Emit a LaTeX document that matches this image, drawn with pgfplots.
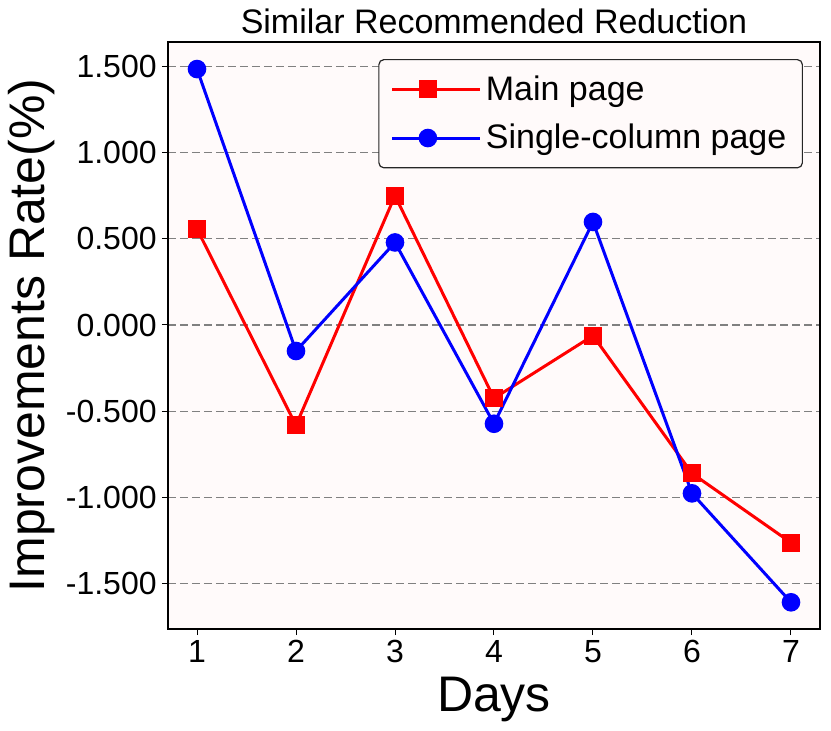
\documentclass[border=0pt]{standalone}
\usepackage{pgfplots}
\pgfplotsset{compat=1.18}
\usepackage{fontspec}
\setmainfont{Liberation Sans}
\definecolor{bgpink}{RGB}{255,250,250}
\definecolor{gridgray}{RGB}{128,128,128}
\begin{document}
\begin{tikzpicture}
\useasboundingbox (-84bp,-344.5bp) rectangle (331.5bp,21bp);
\begin{axis}[
  at={(0,0)}, anchor=north west,
  scale only axis,
  width=326bp, height=293.5bp,
  xmin=0.707, xmax=7.293,
  ymin=-1.764, ymax=1.642,
  xtick={1,2,3,4,5,6,7},
  ytick={-1.5,-1,-0.5,0,0.5,1,1.5},
  /pgf/number format/assume math mode=true,
  yticklabel={\pgfmathprintnumber[fixed,fixed zerofill,precision=3]{\tick}},
  tick pos=left,
  tick align=outside,
  major tick length=3bp,
  every tick/.style={black, line width=0.5bp},
  axis line style={black, line width=0.8bp},
  axis background/.style={fill=bgpink},
  ymajorgrids,
  grid style={gridgray, line width=0.65bp, dash pattern=on 4bp off 2bp},
  ticklabel style={font=\fontsize{16bp}{19bp}\selectfont},
  yticklabel style={inner sep=0pt, anchor=east, xshift=-2.5bp},
  xticklabel style={inner sep=0pt, anchor=north, yshift=-2.5bp},
  title={Similar Recommended Reduction},
  title style={font=\fontsize{17bp}{20bp}\selectfont, at={(axis description cs:0.5,1)}, anchor=base, yshift=-1.5bp, inner sep=0pt},
  xlabel={Days},
  ylabel={Improvements Rate(\%)},
  xlabel style={font=\fontsize{25bp}{28bp}\selectfont, at={(axis description cs:0.5,-0.1397)}, anchor=base, inner sep=0pt},
  ylabel style={font=\fontsize{25bp}{28bp}\selectfont, at={(axis description cs:-0.1887,0.5)}, anchor=base, inner sep=0pt},
  legend style={at={(axis description cs:0.9739,0.9710)}, anchor=north east,
    draw=black!85, line width=0.6bp, rounded corners=2.5bp, fill=bgpink,
    font=\fontsize{17bp}{20bp}\selectfont,
    inner xsep=6bp, inner ysep=6bp,
    row sep=6.5bp},
  legend cell align=left,
  legend image code/.code={\draw[mark repeat=2,mark phase=2,#1] plot coordinates {(0bp,0bp) (17.75bp,0bp) (35.5bp,0bp)};
    \path (0bp,0bp) -- (44bp,0bp);},
]
\addplot[red, line width=1.5bp, mark=square*, mark size=3.75bp, mark options={solid}] coordinates {
(1,0.557) (2,-0.582) (3,0.750) (4,-0.425) (5,-0.062) (6,-0.861) (7,-1.263)
};
\addlegendentry{Main page}
\addplot[blue, line width=1.5bp, mark=*, mark size=3.9bp, mark options={solid}] coordinates {
(1,1.485) (2,-0.151) (3,0.479) (4,-0.573) (5,0.598) (6,-0.977) (7,-1.609)
};
\addlegendentry{Single-column page}
\end{axis}
\end{tikzpicture}
\end{document}
